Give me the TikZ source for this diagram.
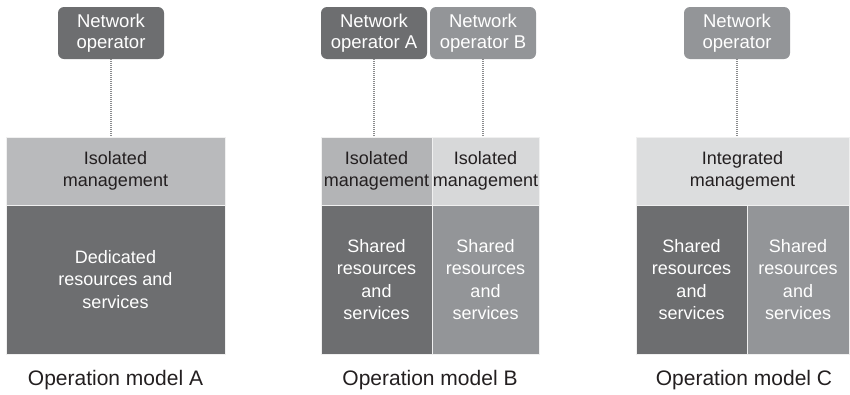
\documentclass[tikz,border=0pt]{standalone}
\usepackage{fontspec}
\setmainfont{Liberation Sans}
\definecolor{dkgray}{HTML}{6D6E70}
\definecolor{mdgray}{HTML}{939598}
\definecolor{ltgrayA}{HTML}{B9BABC}
\definecolor{ltgrayB}{HTML}{B3B4B6}
\definecolor{paleB}{HTML}{D7D8D9}
\definecolor{paleC}{HTML}{DCDDDE}
\definecolor{inkk}{HTML}{231F20}
\definecolor{dotc}{HTML}{8A8B8D}
\tikzset{
  block/.style={rectangle, inner sep=0pt, align=center, draw=white!88!gray, line width=0.7pt,
    font=\fontsize{18}{22.5}\selectfont},
  opbox/.style={rectangle, rounded corners=6pt, inner sep=0pt, align=center, text=white,
    minimum width=106pt, minimum height=52pt, font=\fontsize{18.5}{21}\selectfont},
  caption/.style={inner sep=0pt, text=inkk, font=\fontsize{21}{25}\selectfont},
  link/.style={draw=dotc, line width=1.4pt, dash pattern=on 1.2pt off 0.8pt}
}
\begin{document}
\begin{tikzpicture}[x=1pt,y=-1pt]
\useasboundingbox[fill=white] (0,0) rectangle (850,394);

% ---- Operation model A ----
\node[opbox, fill=dkgray] (opA) at (111,33) {Network\\operator};
\node[block, fill=ltgrayA, text=inkk, minimum width=219pt, minimum height=68pt] (mgA) at (115.5,171) {Isolated\\management};
\node[block, fill=dkgray, text=white, minimum width=219pt, minimum height=149pt] (resA) at (115.5,279.5) {Dedicated\\resources and\\services};
\node[caption] (capA) at (115.5,380) {Operation model A};
\draw[link] (opA.south) -- (opA.south |- mgA.north);

% ---- Operation model B ----
\node[opbox, fill=dkgray] (opBA) at (374,33) {Network\\operator A};
\node[opbox, fill=mdgray] (opBB) at (483,33) {Network\\operator B};
\node[block, fill=ltgrayB, text=inkk, minimum width=111pt, minimum height=68pt] (mgB1) at (376.5,171) {Isolated\\management};
\node[block, fill=paleB, text=inkk, minimum width=107pt, minimum height=68pt] (mgB2) at (485.5,171) {Isolated\\management};
\node[block, fill=dkgray, text=white, minimum width=111pt, minimum height=149pt] (resB1) at (376.5,279.5) {Shared\\resources\\and\\services};
\node[block, fill=mdgray, text=white, minimum width=107pt, minimum height=149pt] (resB2) at (485.5,279.5) {Shared\\resources\\and\\services};
\node[caption] (capB) at (430,380) {Operation model B};
\draw[link] (opBA.south) -- (opBA.south |- mgB1.north);
\draw[link] (opBB.south) -- (opBB.south |- mgB2.north);

% ---- Operation model C ----
\node[opbox, fill=mdgray] (opC) at (737,33) {Network\\operator};
\node[block, fill=paleC, text=inkk, minimum width=213pt, minimum height=68pt] (mgC) at (742.5,171) {Integrated\\management};
\node[block, fill=dkgray, text=white, minimum width=111pt, minimum height=149pt] (resC1) at (691.5,279.5) {Shared\\resources\\and\\services};
\node[block, fill=mdgray, text=white, minimum width=102pt, minimum height=149pt] (resC2) at (798,279.5) {Shared\\resources\\and\\services};
\node[caption] (capC) at (744,380) {Operation model C};
\draw[link] (opC.south) -- (opC.south |- mgC.north);
\end{tikzpicture}
\end{document}
